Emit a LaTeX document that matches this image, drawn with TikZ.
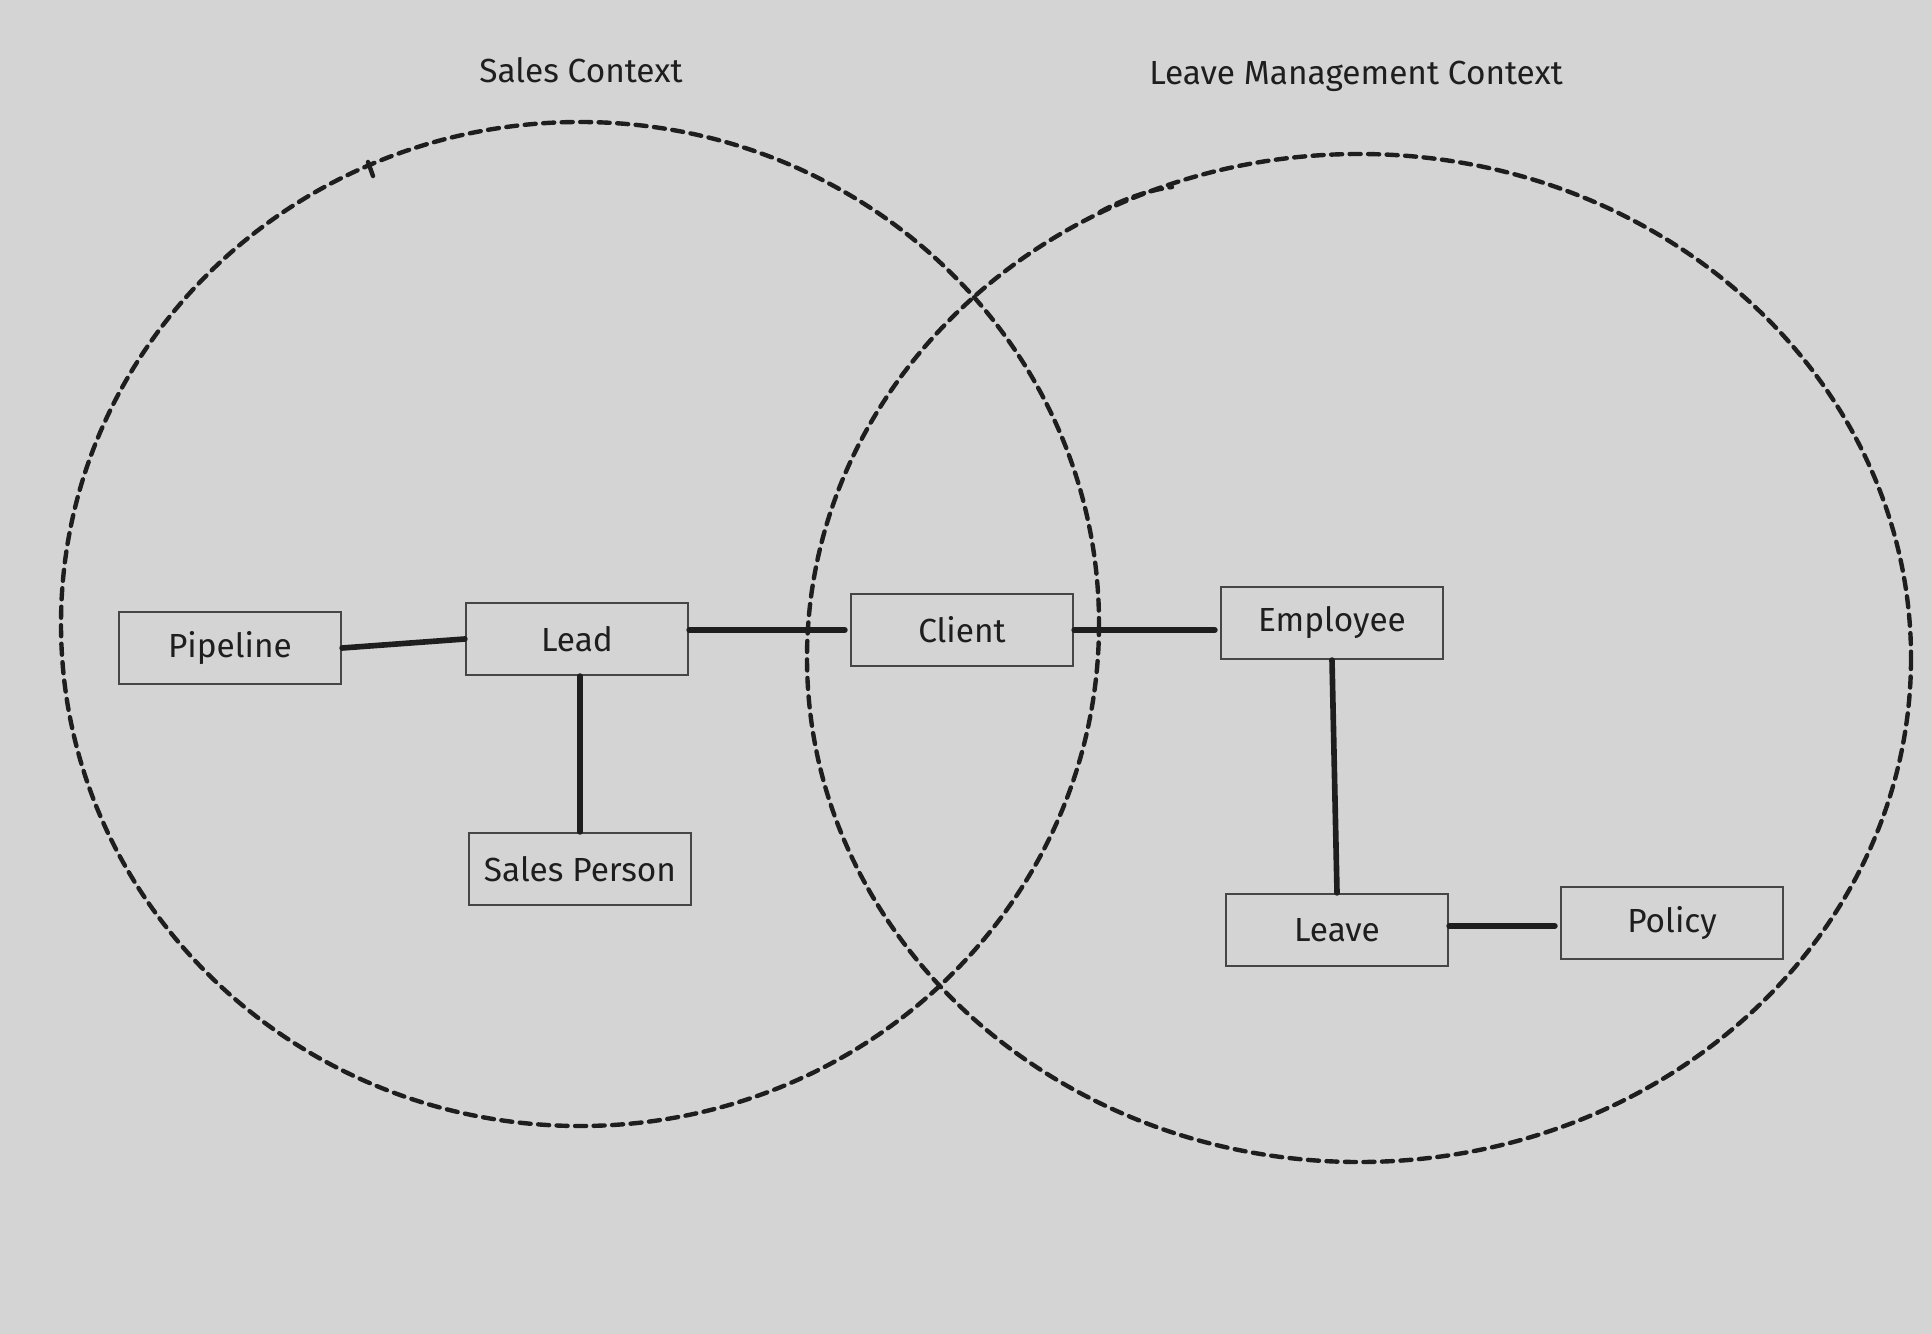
\documentclass[tikz,border=0pt]{standalone}
\usepackage{fontspec}
\setmainfont{Fira Sans}
\definecolor{bg}{RGB}{212,212,212}
\definecolor{ink}{RGB}{30,30,30}
\definecolor{boxline}{RGB}{70,70,70}
\begin{document}
\begin{tikzpicture}[x=0.01cm,y=-0.01cm,
  entity/.style={draw=boxline, line width=0.6pt, fill=bg, minimum width=2.22cm, minimum height=0.72cm, inner sep=0pt, font=\fontsize{9.5pt}{11pt}\selectfont, text=ink},
  ctxlabel/.style={font=\fontsize{9.5pt}{11pt}\selectfont, text=ink},
  ctx/.style={draw=ink, line width=1.25pt, dash pattern=on 0.11cm off 0.075cm, line cap=round},
  link/.style={draw=ink, line width=1.6pt, line cap=round}]
\useasboundingbox (0,0) rectangle (1931,1334);
\fill[bg] (0,0) rectangle (1931,1334);

% contexts
\draw[ctx] (580,624) ellipse [x radius=519, y radius=502];
\draw[ctx] (1359,658) ellipse [x radius=552, y radius=504];
\draw[ink, line width=1.25pt, line cap=round] (368,162) -- (373,176);
\draw[ctx] (1100,212) .. controls (1125,198) and (1150,190) .. (1172,187);

\node[ctxlabel] (tsales) at (581,70) {Sales Context};
\node[ctxlabel] (tleave) at (1356,76) {Leave Management Context};

% entities
\node[entity] (pipeline) at (230,648) {Pipeline};
\node[entity] (lead) at (577,639) {Lead};
\node[entity] (client) at (962,630) {Client};
\node[entity] (employee) at (1332,623) {Employee};
\node[entity] (salesperson) at (580,869) {Sales Person};
\node[entity] (leave) at (1337,930) {Leave};
\node[entity] (policy) at (1672,923) {Policy};

% links
\draw[link] (pipeline.east) -- (lead.west);
\draw[link] (client.west -| lead.east) -- ([xshift=-0.05cm]client.west);
\draw[link] (client.east) -- ([xshift=-0.05cm]client.east -| employee.west);
\draw[link] (salesperson.north |- lead.south) -- (salesperson.north);
\draw[link] (employee.south) -- (leave.north);
\draw[link] ([yshift=0.04cm]leave.east) -- ([yshift=0.04cm,xshift=-0.05cm]leave.east -| policy.west);
\end{tikzpicture}
\end{document}
